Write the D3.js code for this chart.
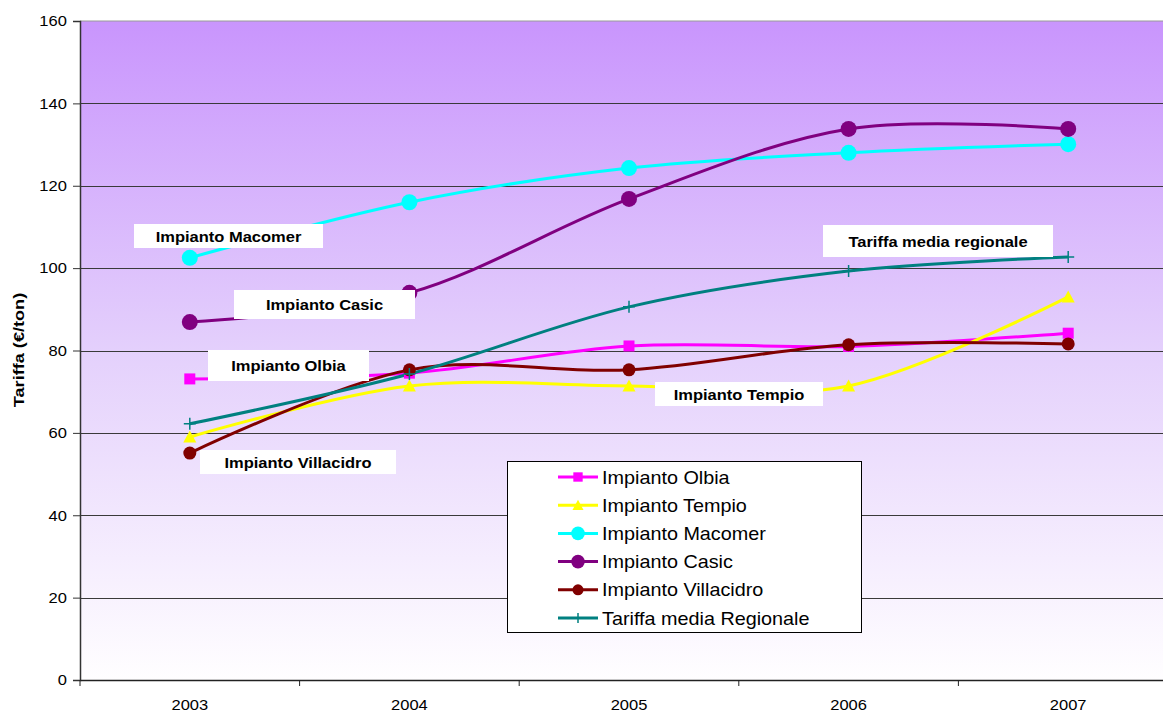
<!DOCTYPE html>
<html><head><meta charset="utf-8">
<script src="https://cdn.jsdelivr.net/npm/d3@7"></script>
<style>body{margin:0;background:#fff;} svg{display:block;font-family:Arial,"Liberation Sans",sans-serif;}</style>
</head><body>
<svg id="c" width="1163" height="713"></svg>
<script>
const years = ["2003","2004","2005","2006","2007"];
const yTicks = [0,20,40,60,80,100,120,140,160];
const olbia = [73.1, 74.5, 81.1, 81.0, 84.2];
const tempio = [59.0, 71.4, 71.4, 71.4, 93.0];
const macomer = [102.5, 116.0, 124.3, 128.0, 130.1];
const casic = [86.9, 94.0, 116.8, 133.8, 133.8];
const villacidro = [55.1, 75.3, 75.3, 81.4, 81.6];
const media = [62.2, 74.3, 90.6, 99.3, 102.7];
const seriesNames = ["Impianto Olbia","Impianto Tempio","Impianto Macomer","Impianto Casic","Impianto Villacidro","Tariffa media Regionale"];
const labelTexts = ["Impianto Olbia","Impianto Tempio","Impianto Macomer","Impianto Casic","Impianto Villacidro","Tariffa media regionale"];

const series = [
  {name:seriesNames[0], values:olbia, color:"#FF00FF", marker:"square"},
  {name:seriesNames[1], values:tempio, color:"#FFFF00", marker:"triangle"},
  {name:seriesNames[2], values:macomer, color:"#00FFFF", marker:"circle", r:8},
  {name:seriesNames[3], values:casic, color:"#800080", marker:"circle", r:8},
  {name:seriesNames[4], values:villacidro, color:"#800000", marker:"circle", r:6.5},
  {name:seriesNames[5], values:media, color:"#008080", marker:"plus"}
];

const SX = 1.1; // horizontal text stretch
const svg = d3.select("#c");
const L = 80, T = 21, B = 680, R = 1178;
const x = d3.scaleBand().domain(years).range([L, R]).paddingInner(0).paddingOuter(0);
const y = d3.scaleLinear().domain([0,160]).range([B, T]);

const defs = svg.append("defs");
const grad = defs.append("linearGradient").attr("id","bg").attr("x1",0).attr("y1",0).attr("x2",0).attr("y2",1);
grad.append("stop").attr("offset","0%").attr("stop-color","#C995FD");
grad.append("stop").attr("offset","50%").attr("stop-color","#E4D0FC");
grad.append("stop").attr("offset","100%").attr("stop-color","#FFFEFF");

svg.append("rect").attr("x",L).attr("y",T).attr("width",R-L).attr("height",B-T).attr("fill","url(#bg)");
svg.append("line").attr("x1",L).attr("x2",R).attr("y1",T).attr("y2",T).attr("stroke","#9a9a9a").attr("stroke-width",1);

// gridlines
svg.append("g").selectAll("line").data(yTicks.filter(d=>d>0 && d<160)).join("line")
  .attr("x1",L).attr("x2",R).attr("y1",d=>Math.round(y(d))+0.5).attr("y2",d=>Math.round(y(d))+0.5)
  .attr("stroke","#3a3a3a").attr("stroke-width",1);

// y axis
const yAxis = d3.axisLeft(y).tickValues(yTicks).tickSize(7).tickPadding(5);
const gy = svg.append("g").attr("transform",`translate(${L},0)`).call(yAxis);
gy.select(".domain").attr("stroke","#333").attr("stroke-width",1.5);
gy.selectAll(".tick line").attr("stroke","#333");
gy.selectAll("text").attr("font-size",15).attr("fill","#000").attr("font-family","Arial, Liberation Sans, sans-serif")
  .attr("transform",`scale(${SX},1)`);

// x axis
const xAxis = d3.axisBottom(x).tickSize(0).tickPadding(19);
const gx = svg.append("g").attr("transform",`translate(0,${B})`).call(xAxis);
gx.select(".domain").attr("stroke","#222").attr("stroke-width",1.5);
gx.selectAll("text").attr("font-size",15).attr("fill","#000").attr("font-family","Arial, Liberation Sans, sans-serif")
  .attr("transform",`scale(${SX},1)`);
const bounds = years.map(d=>x(d)).concat([R]);
svg.append("g").selectAll("line").data(bounds).join("line")
  .attr("x1",d=>d).attr("x2",d=>d).attr("y1",B).attr("y2",B+6).attr("stroke","#222").attr("stroke-width",1);

// y title
svg.append("text").attr("transform","translate(24,350) rotate(-90) scale(1.25,1)").attr("text-anchor","middle")
  .attr("font-size",14.5).attr("font-weight","bold").text("Tariffa (€/ton)");

const cx = d => x(d) + x.bandwidth()/2;
const line = d3.line().x((d,i)=>cx(years[i])).y(d=>y(d)).curve(d3.curveCardinal.tension(0));

function drawMarker(g, s, px, py, scale){
  scale = scale||1;
  if(s.marker==="circle"){
    g.append("circle").attr("cx",px).attr("cy",py).attr("r",s.r*scale).attr("fill",s.color);
  } else if(s.marker==="square"){
    const h=5.5*scale;
    g.append("rect").attr("x",px-h).attr("y",py-h).attr("width",2*h).attr("height",2*h).attr("fill",s.color);
  } else if(s.marker==="triangle"){
    const h=6.5*scale;
    g.append("path").attr("d",`M${px},${py-h}L${px+h},${py+h*0.85}L${px-h},${py+h*0.85}Z`).attr("fill",s.color);
  } else if(s.marker==="plus"){
    const h=6*scale;
    g.append("path").attr("d",`M${px-h},${py}H${px+h}M${px},${py-h}V${py+h}`).attr("stroke",s.color).attr("stroke-width",1.5);
  }
}

series.forEach(s=>{
  svg.append("path").datum(s.values).attr("d",line).attr("fill","none").attr("stroke",s.color).attr("stroke-width",3);
});
series.forEach(s=>{
  const g = svg.append("g");
  s.values.forEach((v,j)=>drawMarker(g,s,cx(years[j]),y(v)));
});

function stretchedText(parent, tx, ty, str, size, bold, anchor){
  return parent.append("text").attr("transform",`translate(${tx},${ty}) scale(${SX},1)`)
    .attr("text-anchor",anchor).attr("font-size",size).attr("font-weight",bold?"bold":"normal").text(str);
}

// data labels
const labels = [
  {t:labelTexts[2], x0:134, x1:323, y0:224, y1:248},
  {t:labelTexts[3], x0:234, x1:415, y0:290, y1:319},
  {t:labelTexts[0], x0:208, x1:369, y0:350, y1:381},
  {t:labelTexts[4], x0:200, x1:396, y0:450, y1:474},
  {t:labelTexts[1], x0:655, x1:823, y0:382, y1:406},
  {t:labelTexts[5], x0:823, x1:1053, y0:225, y1:257}
];
labels.forEach(l=>{
  svg.append("rect").attr("x",l.x0).attr("y",l.y0).attr("width",l.x1-l.x0).attr("height",l.y1-l.y0).attr("fill","#fff");
  stretchedText(svg,(l.x0+l.x1)/2,(l.y0+l.y1)/2+5.5,l.t,15,true,"middle");
});

// legend
const lg = svg.append("g");
lg.append("rect").attr("x",507.5).attr("y",461.5).attr("width",354).attr("height",171).attr("fill","#fff").attr("stroke","#000").attr("stroke-width",1);
series.forEach((s,i)=>{
  const yy = 477 + i*28.2;
  lg.append("line").attr("x1",558).attr("x2",598).attr("y1",yy).attr("y2",yy).attr("stroke",s.color).attr("stroke-width",3);
  drawMarker(lg,s,578,yy,0.85);
  stretchedText(lg,602,yy+6.5,s.name,18,false,"start");
});
</script>
</body></html>
